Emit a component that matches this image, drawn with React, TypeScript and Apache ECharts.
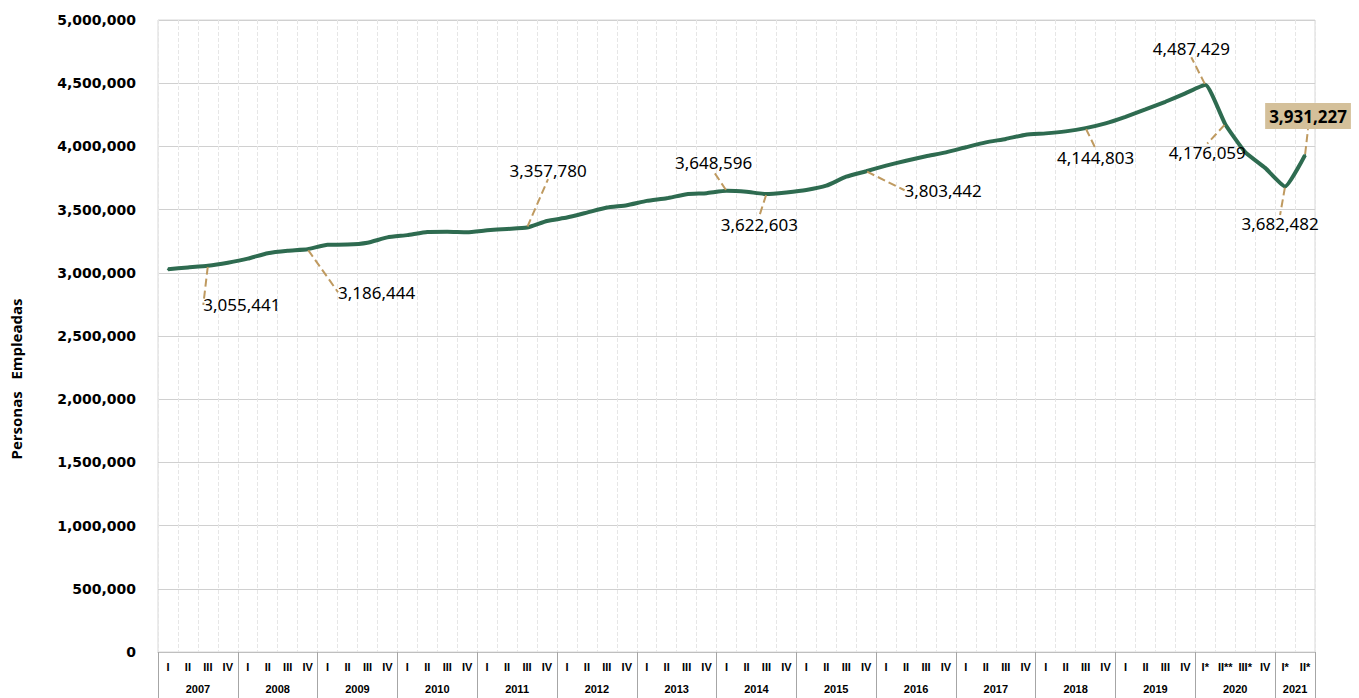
import React, { useEffect, useRef } from "react";
import * as echarts from "echarts";

const years = ["2007", "2008", "2009", "2010", "2011", "2012", "2013", "2014", "2015", "2016", "2017", "2018", "2019", "2020", "2021"];
const regularQuarters = ["I", "II", "III", "IV"];
const quarters2020 = ["I*", "II**", "III*", "IV"];
const quarters2021 = ["I*", "II*"];
const quarterLabels: string[] = [
  ...years.slice(0, 13).flatMap(() => regularQuarters),
  ...quarters2020,
  ...quarters2021,
];

const employed = [
  3028000, 3042000, 3055441, 3080000,
  3112000, 3155000, 3175000, 3186444,
  3222000, 3223000, 3238000, 3280000,
  3298000, 3322000, 3324000, 3320000,
  3336000, 3347000, 3357780, 3410000,
  3437000, 3476000, 3516000, 3535000,
  3569000, 3590000, 3622000, 3630000,
  3648596, 3641000, 3622603, 3636000,
  3655000, 3689000, 3760000, 3803442,
  3848000, 3887000, 3922000, 3953000,
  3993000, 4032000, 4059000, 4093000,
  4103000, 4119000, 4144803, 4182000,
  4234000, 4292000, 4353000, 4420000,
  4487429, 4176059, 3955000, 3830000,
  3682482, 3931227,
];

const labeledIndices = [2, 7, 18, 28, 30, 35, 46, 52, 53, 56, 57];
const highlightedIndex = 57;

const yTicks = [0, 500000, 1000000, 1500000, 2000000, 2500000, 3000000, 3500000, 4000000, 4500000, 5000000];

// label placement offsets (px) relative to the point
const labelOffsets: Record<number, [number, number]> = {
  2: [34, 39],
  7: [69, 43],
  18: [21, -57],
  28: [-13, -28],
  30: [-7, 30],
  35: [77, 19],
  46: [10, 29],
  52: [-14, -36],
  53: [-18, 28],
  56: [-5, 37],
  57: [3, -39],
};

const fmt = (v: number) => v.toLocaleString("en-US");

export default function App() {
  const ref = useRef<HTMLDivElement>(null);
  useEffect(() => {
    if (!ref.current) return;
    const chart = echarts.init(ref.current, undefined, { renderer: "svg" });
    const yearTickValues: number[] = [];
    const yearLabelValues: number[] = [];
    let start = 0;
    years.forEach((_, i) => {
      const n = i < 13 ? 4 : i === 13 ? quarters2020.length : quarters2021.length;
      yearTickValues.push(start);
      yearLabelValues.push(start + n / 2);
      start += n;
    });
    yearTickValues.push(start);
    const total = start;

    const data = employed.map((v, i) => {
      const isLabeled = labeledIndices.includes(i);
      const isHi = i === highlightedIndex;
      return {
        value: v,
        label: isLabeled
          ? {
              show: true,
              position: "inside",
              formatter: () => fmt(v),
              fontFamily: "Noto Sans",
              fontSize: 17,
              color: "#000",
              fontWeight: isHi ? "bold" : "normal",
              backgroundColor: isHi ? "#D4C09A" : "transparent",
              padding: isHi ? [5, 4, 4, 4] : 0,
            }
          : { show: false },
        labelLine: isLabeled ? { show: true } : { show: false },
      };
    });

    chart.setOption({
      animation: false,
      grid: {
        left: 158,
        right: 44,
        top: 20,
        bottom: 46,
        show: true,
        borderColor: "#d9d9d9",
        borderWidth: 1,
      },
      xAxis: [
        {
          type: "category",
          data: quarterLabels,
          boundaryGap: true,
          axisLine: { show: true, lineStyle: { color: "#bfbfbf", width: 1 } },
          axisTick: { show: false },
          axisLabel: {
            interval: 0,
            fontFamily: "Liberation Sans",
            fontWeight: "bold",
            fontSize: 11,
            color: "#000",
            margin: 9,
          },
          splitLine: {
            show: true,
            interval: 0,
            lineStyle: { color: "#e6e6e6", type: "dashed", width: 1 },
          },
        },
        {
          type: "value",
          min: 0,
          max: total,
          position: "bottom",
          axisLine: { show: false },
          splitLine: { show: false },
          axisTick: {
            show: true,
            customValues: yearTickValues,
            length: 52,
            lineStyle: { color: "#a6a6a6", width: 1 },
          },
          axisLabel: {
            show: true,
            customValues: yearLabelValues,
            formatter: (v: number) => {
              const idx = yearLabelValues.findIndex((x) => Math.abs(x - v) < 1e-6);
              return idx >= 0 ? years[idx] : "";
            },
            fontFamily: "Liberation Sans",
            fontWeight: "bold",
            fontSize: 11,
            color: "#000",
            margin: 31,
          },
        },
      ],
      yAxis: {
        type: "value",
        min: 0,
        max: 5000000,
        interval: 500000,
        axisLine: { show: false },
        axisTick: { show: false },
        axisLabel: {
          formatter: (v: number) => (yTicks.includes(v) ? fmt(v) : ""),
          fontFamily: "DejaVu Sans",
          fontWeight: "bold",
          fontSize: 14,
          color: "#000",
          margin: 22,
        },
        splitLine: { show: true, lineStyle: { color: "#d0d0d0", width: 1 } },
      },
      graphic: [
        {
          type: "text",
          x: 16,
          y: 379,
          rotation: Math.PI / 2,
          style: {
            text: "Personas   Empleadas",
            fontFamily: "Open Sans",
            fontWeight: "bold",
            fontSize: 15,
            fill: "#000",
            align: "center",
            verticalAlign: "middle",
          },
        },
      ],
      series: [
        {
          type: "line",
          xAxisIndex: 0,
          yAxisIndex: 0,
          data,
          smooth: 0.15,
          symbol: "circle",
          symbolSize: 2,
          showSymbol: true,
          itemStyle: { color: "#2E6B50" },
          lineStyle: { color: "#2E6B50", width: 4 },
          labelLine: {
            show: true,
            lineStyle: { color: "#BF9A60", width: 2, type: "dashed" },
          },
          labelLayout: (params: any) => {
            const off = labelOffsets[params.dataIndex];
            if (!off) return {};
            return { dx: off[0], dy: off[1] };
          },
          z: 3,
        },
      ],
    });
    return () => chart.dispose();
  }, []);
  return (
    <div
      ref={ref}
      style={{ position: "absolute", left: 0, top: 0, width: 1359, height: 698 }}
    />
  );
}
